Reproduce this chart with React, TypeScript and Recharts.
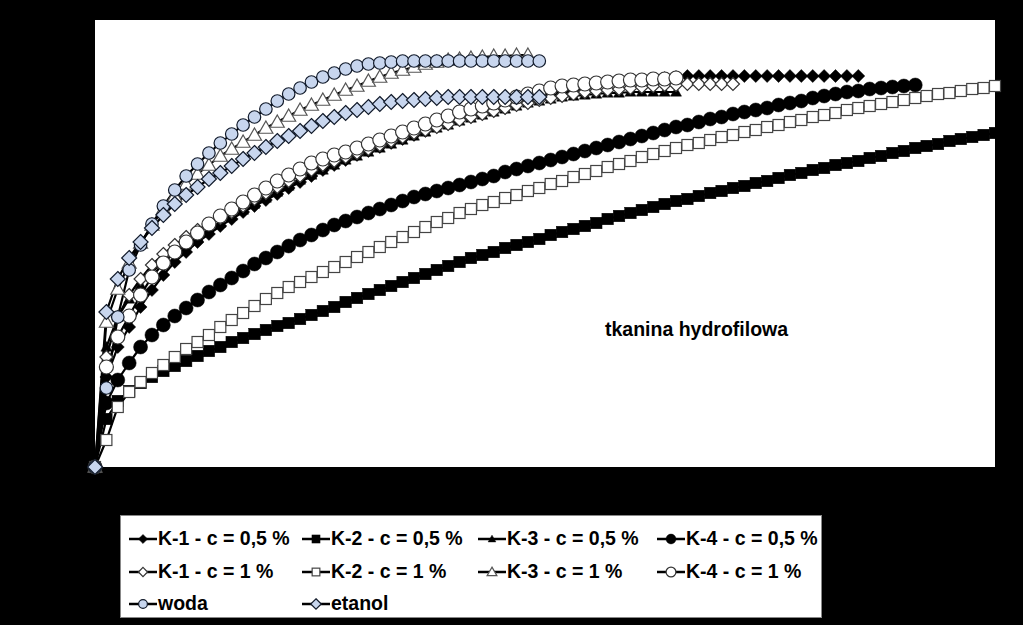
import React from "react";
import { LineChart, Line, XAxis, YAxis, CartesianGrid } from "recharts";

// sorption height, one value per time step (step 0 = start)
const k1Half = [
  0, 90, 120, 140, 160, 177, 192, 205, 215, 225, 233, 241, 248, 255, 261, 267, 273, 279, 285, 291,
  297, 302, 307, 312, 316, 320, 324, 328, 332, 336, 340, 343, 347, 350, 353, 356, 359, 362, 365, 368,
  371, 374, 377, 379, 381, 383, 385, 386, 387, 388, 389, 390, 391, 391, 391, 391, 391, 391, 391, 391,
  391, 391, 391, 391, 391, 391, 391, 391,
];
const k2Half = [
  0, 48, 66, 76, 84, 90, 96, 101, 106, 111, 116, 120, 125, 129, 133, 137, 141, 144, 148, 152,
  156, 160, 165, 169, 173, 177, 181, 185, 189, 193, 197, 201, 205, 209, 212, 215, 219, 222, 225, 228,
  232, 235, 238, 241, 244, 248, 251, 254, 257, 260, 263, 266, 268, 271, 274, 276, 279, 281, 284, 286,
  289, 292, 294, 297, 299, 302, 304, 306, 309, 311, 314, 316, 319, 321, 323, 326, 328, 330, 332, 334,
];
const k3Half = [
  0, 120, 150, 168, 182, 195, 205, 214, 222, 230, 237, 244, 251, 257, 263, 269, 275, 281, 287, 292,
  297, 302, 307, 311, 315, 319, 323, 327, 331, 335, 339, 342, 346, 349, 352, 355, 358, 361, 364, 366,
  368, 370, 371, 372, 373, 374, 374, 375, 375, 375, 375, 375,
];
const k4Half = [
  0, 64, 87, 104, 120, 132, 142, 151, 159, 167, 175, 182, 189, 196, 203, 209, 215, 221, 227, 232,
  237, 242, 246, 250, 254, 258, 262, 266, 270, 273, 276, 279, 282, 285, 288, 291, 295, 298, 301, 304,
  307, 310, 313, 316, 319, 322, 325, 328, 331, 334, 337, 340, 342, 345, 348, 350, 353, 355, 357, 359,
  362, 364, 366, 369, 371, 373, 375, 376, 378, 379, 380, 381, 382,
];
const k1One = [
  0, 110, 150, 172, 188, 202, 213, 222, 230, 237, 243, 249, 255, 261, 268, 274, 280, 286, 291, 297,
  302, 306, 310, 314, 318, 322, 326, 330, 334, 337, 340, 343, 347, 350, 353, 356, 359, 362, 364, 367,
  369, 371, 373, 375, 376, 377, 378, 379, 380, 381, 382, 382, 383, 383, 383, 383, 383,
];
const k2One = [
  0, 27, 60, 75, 85, 94, 102, 110, 118, 125, 132, 140, 147, 154, 161, 168, 174, 180, 185, 190,
  195, 200, 205, 210, 215, 220, 225, 230, 235, 240, 245, 249, 254, 258, 262, 265, 269, 272, 276, 279,
  283, 286, 290, 293, 296, 300, 303, 306, 310, 313, 316, 319, 322, 324, 327, 330, 332, 335, 337, 340,
  342, 345, 347, 350, 352, 354, 357, 359, 361, 363, 365, 367, 369, 371, 373, 374, 376, 378, 379, 381,
];
const k3One = [
  0, 145, 178, 204, 224, 242, 258, 271, 283, 293, 302, 311, 318, 325, 332, 339, 345, 351, 357, 362,
  367, 372, 377, 381, 386, 390, 394, 397, 400, 403, 405, 407, 408, 409, 410, 411, 411, 412, 412,
];
const k4One = [
  0, 100, 130, 151, 172, 190, 204, 215, 225, 234, 243, 251, 258, 265, 272, 279, 286, 292, 298, 304,
  308, 312, 315, 319, 323, 327, 331, 335, 339, 343, 347, 351, 355, 358, 361, 364, 367, 370, 373, 376,
  379, 381, 382, 383, 384, 385, 386, 387, 387, 388, 388, 389,
];
const woda = [
  0, 79, 150, 197, 222, 243, 261, 277, 291, 303, 314, 324, 333, 342, 350, 358, 366, 373, 379, 385,
  390, 394, 398, 401, 403, 404, 405, 406, 406, 406, 406, 406, 406, 406, 406, 406, 406, 406, 406, 406,
];
const etanol = [
  0, 155, 188, 209, 225, 239, 252, 263, 272, 280, 288, 294, 301, 308, 314, 320, 326, 331, 336, 341,
  346, 350, 354, 357, 360, 363, 365, 366, 367, 368, 369, 370, 370, 370, 370, 370, 370, 370, 370, 370,
];

const BLUE = "#c8d6ee";
const FONT = '"Liberation Sans", Arial, sans-serif';

type Shape = "diamond" | "square" | "triangle" | "circle";

interface SeriesDef {
  key: string;
  name: string;
  values: number[];
  shape: Shape;
  fill: string;
  stroke: string;
  size: number;
}

const SERIES: SeriesDef[] = [
  { key: "k1h", name: "K-1 - c = 0,5 %", values: k1Half, shape: "diamond", fill: "#000", stroke: "#000", size: 13 },
  { key: "k2h", name: "K-2 - c = 0,5 %", values: k2Half, shape: "square", fill: "#000", stroke: "#000", size: 11.5 },
  { key: "k3h", name: "K-3 - c = 0,5 %", values: k3Half, shape: "triangle", fill: "#000", stroke: "#000", size: 11 },
  { key: "k4h", name: "K-4 - c = 0,5 %", values: k4Half, shape: "circle", fill: "#000", stroke: "#000", size: 14 },
  { key: "k1o", name: "K-1 - c = 1 %", values: k1One, shape: "diamond", fill: "#fff", stroke: "#333", size: 13 },
  { key: "k2o", name: "K-2 - c = 1 %", values: k2One, shape: "square", fill: "#fff", stroke: "#444", size: 11 },
  { key: "k3o", name: "K-3 - c = 1 %", values: k3One, shape: "triangle", fill: "#fff", stroke: "#555", size: 14 },
  { key: "k4o", name: "K-4 - c = 1 %", values: k4One, shape: "circle", fill: "#fff", stroke: "#333", size: 14 },
  { key: "woda", name: "woda", values: woda, shape: "circle", fill: BLUE, stroke: "#111a2a", size: 12.5 },
  { key: "etanol", name: "etanol", values: etanol, shape: "diamond", fill: BLUE, stroke: "#111a2a", size: 15 },
];

const Mark = ({ cx, cy, shape, fill, stroke, size }: any) => {
  if (cx == null || cy == null) return null;
  const h = size / 2;
  const sw = fill === "#000" ? 0.5 : 1.2;
  if (shape === "diamond") {
    return (
      <polygon
        points={`${cx},${cy - h} ${cx + h},${cy} ${cx},${cy + h} ${cx - h},${cy}`}
        fill={fill}
        stroke={stroke}
        strokeWidth={sw}
      />
    );
  }
  if (shape === "square") {
    return <rect x={cx - h} y={cy - h} width={size} height={size} fill={fill} stroke={stroke} strokeWidth={sw} />;
  }
  if (shape === "triangle") {
    return (
      <polygon
        points={`${cx},${cy - h} ${cx + h},${cy + h * 0.75} ${cx - h},${cy + h * 0.75}`}
        fill={fill}
        stroke={stroke}
        strokeWidth={sw}
      />
    );
  }
  return <circle cx={cx} cy={cy} r={h} fill={fill} stroke={stroke} strokeWidth={sw} />;
};

const LegendItem = ({ s }: { s: SeriesDef }) => (
  <div style={{ display: "flex", alignItems: "center" }}>
    <svg width={28} height={14} style={{ marginRight: 1 }}>
      <line x1={0} y1={7} x2={28} y2={7} stroke="#000" strokeWidth={2.5} />
      <Mark cx={14} cy={7} shape={s.shape} fill={s.fill} stroke={s.stroke} size={s.size * 0.7} />
    </svg>
    <span>{s.name}</span>
  </div>
);

const LEGEND_COLS = [8, 181, 357, 536];
const LEGEND_ROWS = [23, 56, 88];

export default function App() {
  return (
    <div style={{ position: "absolute", left: 0, top: 0, width: 1023, height: 625, background: "#000" }}>
      <LineChart width={1023} height={625} margin={{ top: 20, right: 28, bottom: 158, left: 95 }}>
        <CartesianGrid horizontal={false} vertical={false} fill="#fff" />
        <XAxis type="number" dataKey="t" domain={[0, 79]} hide />
        <YAxis type="number" domain={[0, 447]} hide />
        {SERIES.map((s) => (
          <Line
            key={s.key}
            data={s.values.map((v, i) => ({ t: i, h: v }))}
            dataKey="h"
            name={s.name}
            type="linear"
            stroke="#000"
            strokeWidth={2.2}
            isAnimationActive={false}
            activeDot={false}
            dot={(p: any) => (
              <Mark key={`${s.key}-${p.index}`} cx={p.cx} cy={p.cy} shape={s.shape} fill={s.fill} stroke={s.stroke} size={s.size} />
            )}
          />
        ))}
      </LineChart>
      <div
        style={{
          position: "absolute",
          left: 605,
          top: 318,
          fontFamily: FONT,
          fontWeight: "bold",
          fontSize: 19.5,
          color: "#000",
          whiteSpace: "nowrap",
        }}
      >
        tkanina hydrofilowa
      </div>
      <div
        style={{
          position: "absolute",
          left: 120,
          top: 515,
          width: 702,
          height: 103,
          background: "#fff",
          border: "1px solid #888",
          boxSizing: "border-box",
          fontFamily: FONT,
          fontWeight: "bold",
          fontSize: 19.5,
          color: "#000",
        }}
      >
        {SERIES.map((s, i) => (
          <div
            key={s.key}
            style={{
              position: "absolute",
              left: LEGEND_COLS[i % 4],
              top: LEGEND_ROWS[Math.floor(i / 4)] - 12,
              height: 24,
              whiteSpace: "nowrap",
            }}
          >
            <LegendItem s={s} />
          </div>
        ))}
      </div>
    </div>
  );
}
